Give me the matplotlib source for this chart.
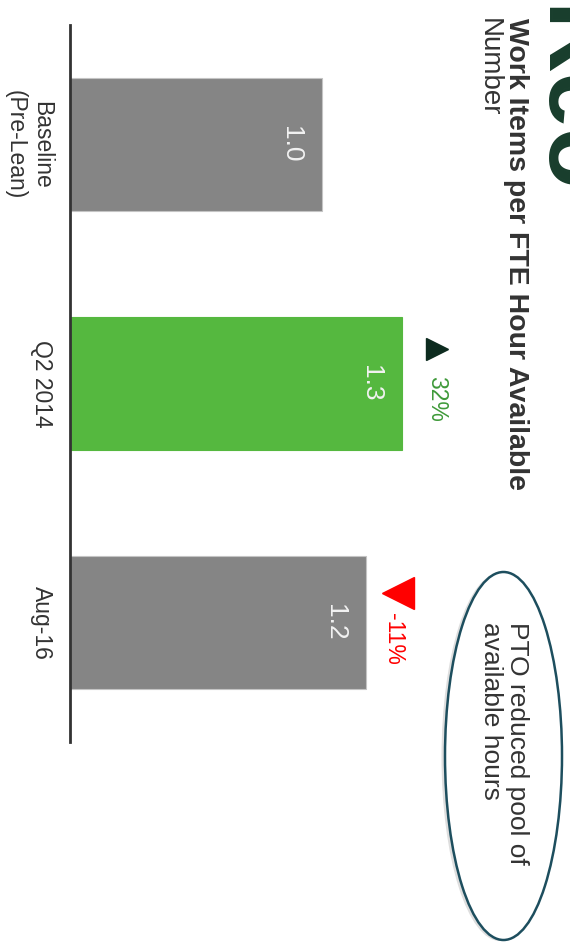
import matplotlib.pyplot as plt
from matplotlib.patches import Ellipse

plt.rcParams['font.family'] = ['Liberation Sans', 'DejaVu Sans']

# data
categories = ['Baseline\n(Pre-Lean)', 'Q2 2014', 'Aug-16']
values = [1.00, 1.32, 1.175]
value_labels = ['1.0', '1.3', '1.2']
changes = [None, 32, -11]
bar_colors = ['#858585', '#55b83f', '#858585']

W, H = 570, 942
fig = plt.figure(figsize=(W / 100, H / 100), dpi=100)

# chart is drawn turned a quarter turn clockwise: bars grow to the right
ax = fig.add_axes([70 / W, (H - 742) / H, 490 / W, 717 / H])
ax.set_xlim(0, 490 / 251.7)
ax.set_ylim(2.5, -0.5)

pos = range(len(categories))
for i, (v, c) in enumerate(zip(values, bar_colors)):
    edge = '#c4c4c4' if c == '#858585' else c
    ax.barh(i, v, height=0.555, color=c, edgecolor=edge, linewidth=0.8, zorder=2)
    ax.text(v - 0.123, i, value_labels[i], rotation=-90, ha='center', va='center',
            fontsize=19, color='#f2f2f2', zorder=3)

# change markers
for i, ch in enumerate(changes):
    if ch is None:
        continue
    v = values[i]
    if ch > 0:
        ax.plot(v + 0.138, i - 0.144, marker='>', ms=16, color='#0d2b1f',
                linestyle='none', clip_on=False)
        ax.text(v + 0.138, i + 0.065, f'{ch}%', rotation=-90, ha='center', va='center',
                fontsize=16.5, color='#3f9a3a')
    else:
        ax.plot(v + 0.13, i - 0.125, marker='<', ms=23, color='#ff0000',
                linestyle='none', clip_on=False)
        ax.text(v + 0.11, i + 0.07, f'{ch}%', rotation=-90, ha='center', va='center',
                fontsize=16.5, color='#ff0000')

ax.set_yticks(list(pos))
ax.set_yticklabels(categories, rotation=-90, ha='right', va='center',
                   multialignment='center', fontsize=16.5, color='#333333')
ax.tick_params(axis='y', length=0, pad=12)
ax.set_xticks([])
for s in ['top', 'right', 'bottom']:
    ax.spines[s].set_visible(False)
ax.spines['left'].set_color('#333333')
ax.spines['left'].set_linewidth(2)

# titles
fig.text(516 / W, 1 - 18 / H, 'Work Items per FTE Hour Available', rotation=-90,
         ha='center', va='top', fontsize=20.5, fontweight='bold', color='#333333')
fig.text(489 / W, 1 - 18 / H, 'Number', rotation=-90, ha='center', va='top',
         fontsize=20, color='#333333')
fig.text(542 / W, 1 - 6 / H, 'Reo', rotation=-90, rotation_mode='anchor',
         ha='left', va='baseline', fontsize=72, fontweight='bold', color='#183d2c')

# callout
shadow = Ellipse((500 / W, 1 - 757 / H), 117 / W, 368 / H, transform=fig.transFigure,
                 facecolor='#d0d0d0', edgecolor='none', alpha=0.7)
fig.add_artist(shadow)
oval = Ellipse((503.5 / W, 1 - 756 / H), 117 / W, 368 / H, transform=fig.transFigure,
               facecolor='white', edgecolor='#1d4e5e', linewidth=1.8)
fig.add_artist(oval)
fig.text(504 / W, 1 - 622 / H, 'PTO reduced pool of\navailable hours', rotation=-90,
         ha='center', va='top', multialignment='left', fontsize=19, color='#333333',
         linespacing=1.15)

fig.savefig('out.png', dpi=100)
